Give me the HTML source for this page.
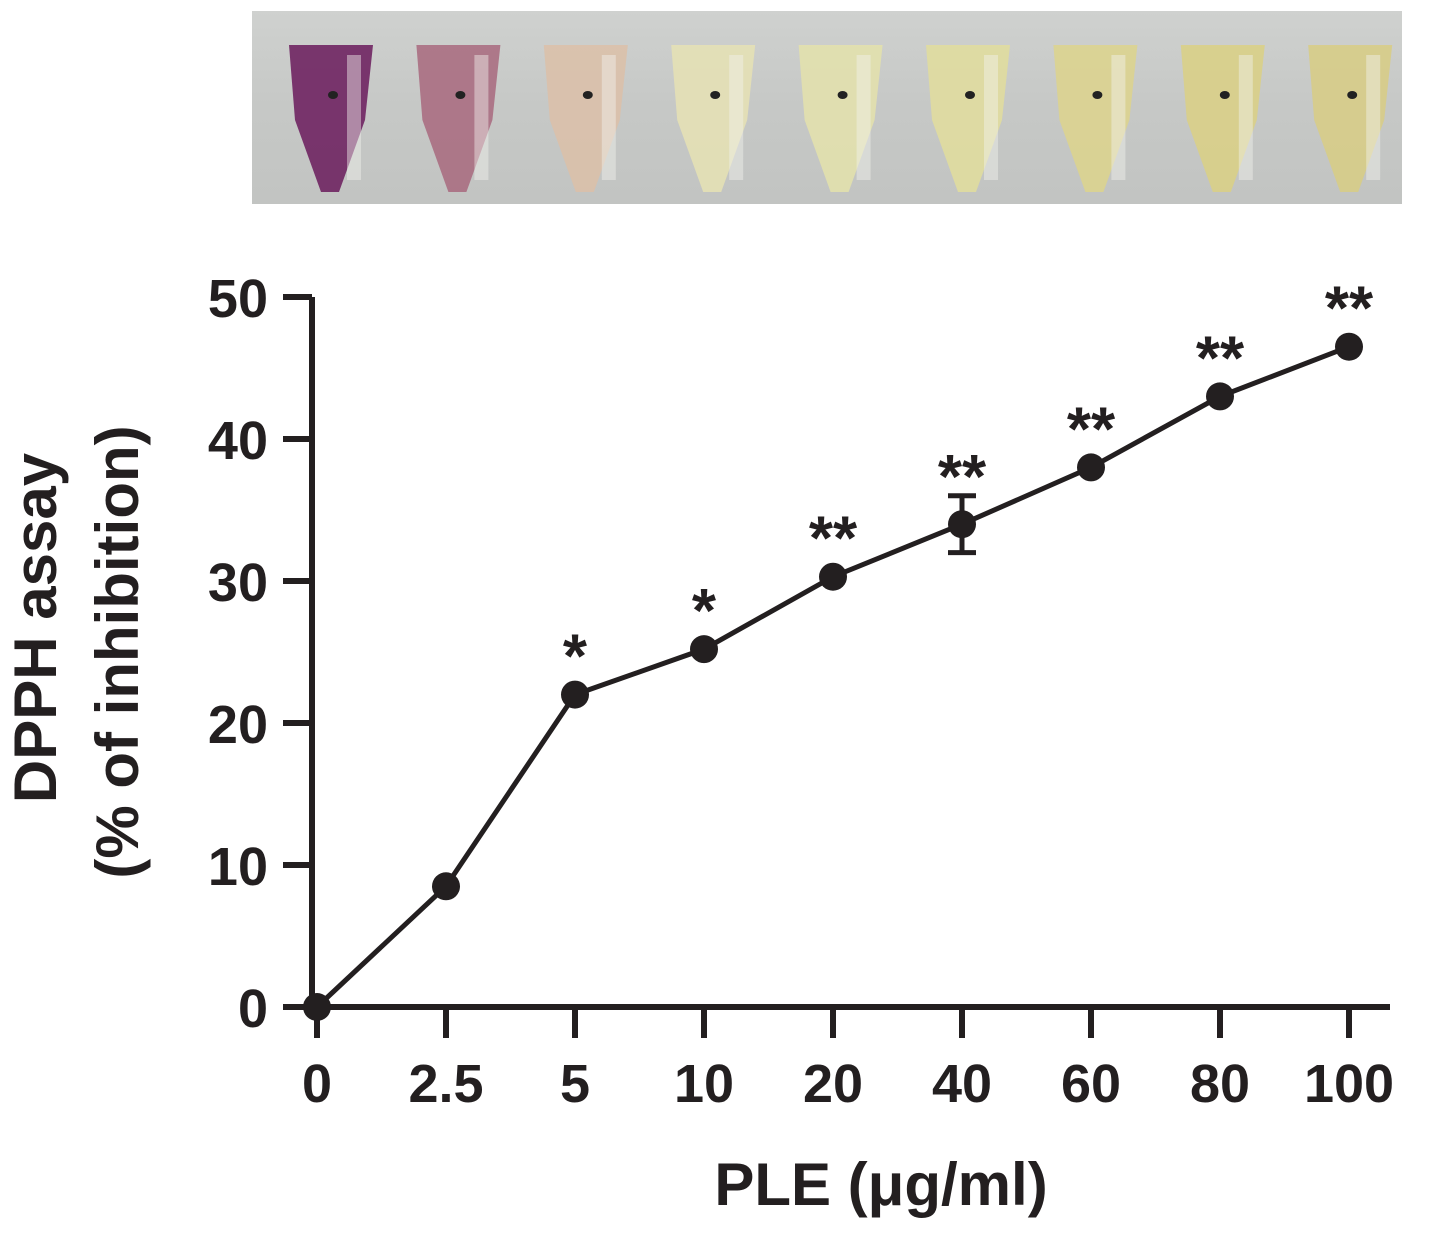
<!DOCTYPE html>
<html><head><meta charset="utf-8"><style>
html,body{margin:0;padding:0;background:#fff;}
svg{display:block;font-family:"Liberation Sans",Arial,sans-serif;font-weight:bold;}
</style></head><body>
<svg width="1441" height="1234" viewBox="0 0 1441 1234">
<defs>
<linearGradient id="bg" x1="0" y1="0" x2="0" y2="1">
<stop offset="0" stop-color="#cfd1cf"/><stop offset="0.5" stop-color="#c6c8c6"/><stop offset="1" stop-color="#c2c4c2"/>
</linearGradient>
</defs>
<g id="photo">
<rect x="252" y="11" width="1150" height="193" fill="url(#bg)"/>
</g>
<g id="chart"></g>
<text x="0" y="0" transform="translate(56,628) rotate(-90)" text-anchor="middle" font-size="60" fill="#231f20">DPPH assay</text>
<text x="0" y="0" transform="translate(138,652) rotate(-90)" text-anchor="middle" font-size="60" fill="#231f20">(% of inhibition)</text>
<text x="881" y="1205" text-anchor="middle" font-size="60" fill="#231f20">PLE (μg/ml)</text>
<script>
const categories = ["0","2.5","5","10","20","40","60","80","100"];
const values = [0, 8.5, 22, 25.2, 30.3, 34, 38, 43, 46.5];
const errors = [0, 0.5, 0.8, 0.7, 0.7, 2, 0.6, 0.7, 0.6];
const marks = ["","","*","*","**","**","**","**","**"];
const yTicks = [0,10,20,30,40,50];
const tubeColors = ["#6a1a5c","#a8687e","#dcc0a8","#e6e2b4","#e4e2ac","#e2dd9c","#ddd48c","#dbd084","#d8cc84"];

const NS="http://www.w3.org/2000/svg";
const g=document.getElementById('chart');
const photo=document.getElementById('photo');
function el(t,a,p){const e=document.createElementNS(NS,t);for(const k in a)e.setAttribute(k,a[k]);(p||g).appendChild(e);return e;}
const x0=317, dx=129;
function xs(i){return x0+i*dx;}
function ys(v){return 1007-v*14.2;}
const ink="#231f20";

tubeColors.forEach((c,i)=>{
  const cx=331+i*127.4;
  const t=el('path',{d:`M${cx-42},45 L${cx+42},45 L${cx+34},120 L${cx+8},192 L${cx-10},192 L${cx-36},120 Z`,fill:c,opacity:0.85},photo);
  
  
  el('rect',{x:cx+16,y:55,width:14,height:125,fill:"#f2f2ee",opacity:0.45},photo);
  el('ellipse',{cx:cx+2,cy:95,rx:5,ry:4,fill:"#222"},photo);
});

const ya=el('line',{x1:312,y1:ys(0),x2:312,y2:ys(50),stroke:ink,'stroke-width':6});


const xa=el('line',{x1:312,y1:1007,x2:1390,y2:1007,stroke:ink,'stroke-width':6});


yTicks.forEach(v=>{
  el('line',{x1:283,y1:ys(v),x2:312,y2:ys(v),stroke:ink,'stroke-width':6});
  const t=el('text',{x:268,y:ys(v)+20,'text-anchor':'end','font-size':54,fill:ink});
  t.textContent=v;
  
  
});
categories.forEach((c,i)=>{
  el('line',{x1:xs(i),y1:1007,x2:xs(i),y2:1038,stroke:ink,'stroke-width':6});
  const t=el('text',{x:xs(i),y:1102,'text-anchor':'middle','font-size':54,fill:ink});
  t.textContent=c;
  
  
});
const pts=values.map((v,i)=>xs(i)+','+ys(v)).join(' ');
const ln=el('polyline',{points:pts,fill:'none',stroke:ink,'stroke-width':5});


values.forEach((v,i)=>{
  const e=errors[i];
  let top=ys(v)-17;
  if(e>0.9){
    el('line',{x1:xs(i),y1:ys(v-e),x2:xs(i),y2:ys(v+e),stroke:ink,'stroke-width':5});
    el('line',{x1:xs(i)-14,y1:ys(v-e),x2:xs(i)+14,y2:ys(v-e),stroke:ink,'stroke-width':5});
    el('line',{x1:xs(i)-14,y1:ys(v+e),x2:xs(i)+14,y2:ys(v+e),stroke:ink,'stroke-width':5});
    top=ys(v+e)+2;
  }
  const p=el('circle',{cx:xs(i),cy:ys(v),r:14,fill:ink});
  
  
  if(marks[i]){
    const s=el('text',{x:xs(i),y:top,'text-anchor':'middle','font-size':62,fill:ink});
    s.textContent=marks[i];
    
    
  }
});
</script>
</svg>
</body></html>
